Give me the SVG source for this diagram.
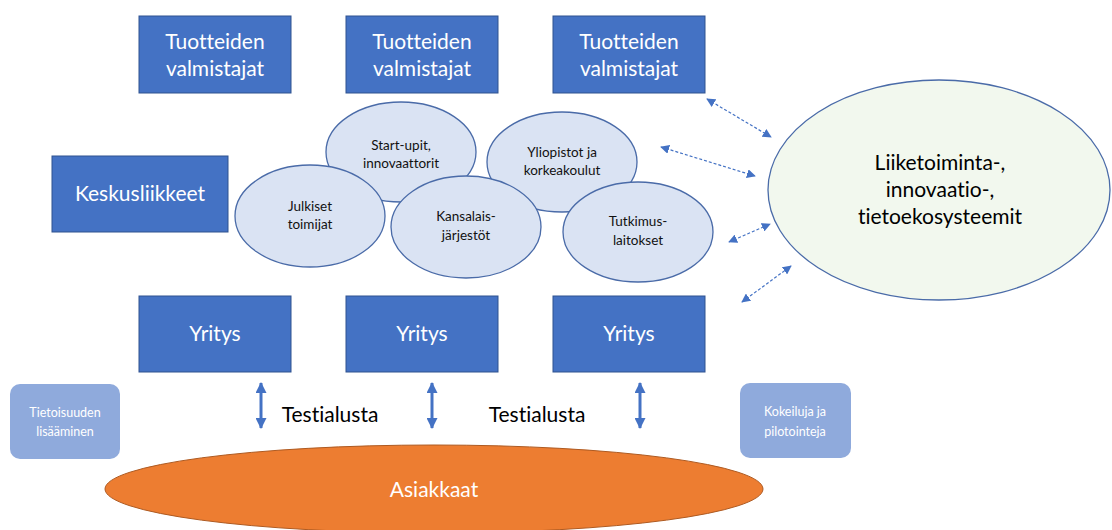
<svg xmlns="http://www.w3.org/2000/svg" width="1112" height="530" viewBox="0 0 1112 530">
<defs>
<style>
text{font-variant-ligatures:none;font-feature-settings:"liga" 0}
.box{fill:#4472c4;stroke:#2f528f;stroke-width:1}
.bt{font-family:Lato,"Liberation Sans",sans-serif;font-size:21px;fill:#fff;text-anchor:middle}
.el{fill:#dae3f3;stroke:#4a6ba8;stroke-width:1.3}
.et{font-family:Lato,"Liberation Sans",sans-serif;font-size:13.5px;fill:#111;text-anchor:middle}
.lb{fill:#8faadc;stroke:none}
.lt{font-family:Lato,"Liberation Sans",sans-serif;font-size:12.5px;fill:#fff;text-anchor:middle}
.dash{stroke:#4472c4;stroke-width:1.2;stroke-dasharray:3 2;fill:none;marker-start:url(#ds);marker-end:url(#de)}
.solid{stroke:#4472c4;stroke-width:3;fill:none;marker-start:url(#ss);marker-end:url(#se)}
.tt{font-family:Lato,"Liberation Sans",sans-serif;font-size:21px;fill:#000;text-anchor:middle}
</style>
<marker id="de" viewBox="0 0 10 10" refX="9" refY="5" markerWidth="9" markerHeight="9" markerUnits="userSpaceOnUse" orient="auto"><path d="M0,0 L10,5 L0,10 z" fill="#4472c4"/></marker>
<marker id="ds" viewBox="0 0 10 10" refX="1" refY="5" markerWidth="9" markerHeight="9" markerUnits="userSpaceOnUse" orient="auto"><path d="M10,0 L0,5 L10,10 z" fill="#4472c4"/></marker>
<marker id="se" viewBox="0 0 10 10" refX="9" refY="5" markerWidth="12" markerHeight="11" markerUnits="userSpaceOnUse" orient="auto"><path d="M0,0 L10,5 L0,10 z" fill="#4472c4"/></marker>
<marker id="ss" viewBox="0 0 10 10" refX="1" refY="5" markerWidth="12" markerHeight="11" markerUnits="userSpaceOnUse" orient="auto"><path d="M10,0 L0,5 L10,10 z" fill="#4472c4"/></marker>
</defs>
<rect width="1112" height="530" fill="#fff"/>

<g id="tv1"><rect class="box" x="139" y="16" width="152" height="77"/><text class="bt" x="215" y="49">Tuotteiden</text><text class="bt" x="215" y="76">valmistajat</text></g>
<g id="tv2"><rect class="box" x="346" y="16" width="152" height="77"/><text class="bt" x="422" y="49">Tuotteiden</text><text class="bt" x="422" y="76">valmistajat</text></g>
<g id="tv3"><rect class="box" x="553" y="16" width="152" height="77"/><text class="bt" x="629" y="49">Tuotteiden</text><text class="bt" x="629" y="76">valmistajat</text></g>
<g id="keskus"><rect class="box" x="52" y="156" width="176" height="76"/><text class="bt" x="140" y="201">Keskusliikkeet</text></g>

<g id="startup"><ellipse class="el" cx="401" cy="152" rx="75" ry="50"/><text class="et" x="401" y="150">Start-upit,</text><text class="et" x="401" y="168">innovaattorit</text></g>
<g id="yliopistot"><ellipse class="el" cx="562" cy="162" rx="75" ry="50"/><text class="et" x="562" y="157">Yliopistot ja</text><text class="et" x="562" y="175">korkeakoulut</text></g>
<g id="julkiset"><ellipse class="el" cx="310" cy="216" rx="75" ry="51"/><text class="et" x="310" y="211">Julkiset</text><text class="et" x="310" y="229">toimijat</text></g>
<g id="kansalais"><ellipse class="el" cx="466" cy="227" rx="75" ry="51"/><text class="et" x="466" y="221">Kansalais-</text><text class="et" x="466" y="240">järjestöt</text></g>
<g id="tutkimus"><ellipse class="el" cx="638" cy="232" rx="75" ry="50"/><text class="et" x="638" y="226">Tutkimus-</text><text class="et" x="638" y="245">laitokset</text></g>

<g id="ekosysteemit"><ellipse cx="939" cy="190" rx="171" ry="110" fill="#f2f8ee" stroke="#4a6ba8" stroke-width="1.3"/><text class="tt" x="940" y="170">Liiketoiminta-,</text><text class="tt" x="940" y="197">innovaatio-,</text><text class="tt" x="940" y="224">tietoekosysteemit</text></g>

<g id="y1"><rect class="box" x="139" y="296" width="152" height="76"/><text class="bt" x="215" y="341">Yritys</text></g>
<g id="y2"><rect class="box" x="346" y="296" width="152" height="76"/><text class="bt" x="422" y="341">Yritys</text></g>
<g id="y3"><rect class="box" x="553" y="296" width="152" height="76"/><text class="bt" x="629" y="341">Yritys</text></g>

<g id="tietoisuus"><rect class="lb" x="10" y="384" width="110" height="75" rx="10"/><text class="lt" x="65" y="417">Tietoisuuden</text><text class="lt" x="65" y="436">lisääminen</text></g>
<g id="kokeiluja"><rect class="lb" x="740" y="383" width="111" height="75" rx="10"/><text class="lt" x="795" y="416">Kokeiluja ja</text><text class="lt" x="795" y="436">pilotointeja</text></g>

<g id="asiakkaat"><ellipse cx="434" cy="489" rx="329" ry="44" fill="#ed7d31" stroke="#ae5a21" stroke-width="1"/><text class="bt" x="434" y="497">Asiakkaat</text></g>

<g id="labels"><text class="tt" x="330" y="422">Testialusta</text><text class="tt" x="537" y="422">Testialusta</text></g>

<g id="connectors">
<line class="dash" x1="707" y1="99" x2="771" y2="137"/>
<line class="dash" x1="661" y1="147" x2="755" y2="176"/>
<line class="dash" x1="729" y1="242" x2="770" y2="224"/>
<line class="dash" x1="742" y1="302" x2="791" y2="266"/>
<line class="solid" x1="261" y1="383" x2="261" y2="428"/>
<line class="solid" x1="432" y1="383" x2="432" y2="428"/>
<line class="solid" x1="640" y1="383" x2="640" y2="428"/>
</g>
</svg>
